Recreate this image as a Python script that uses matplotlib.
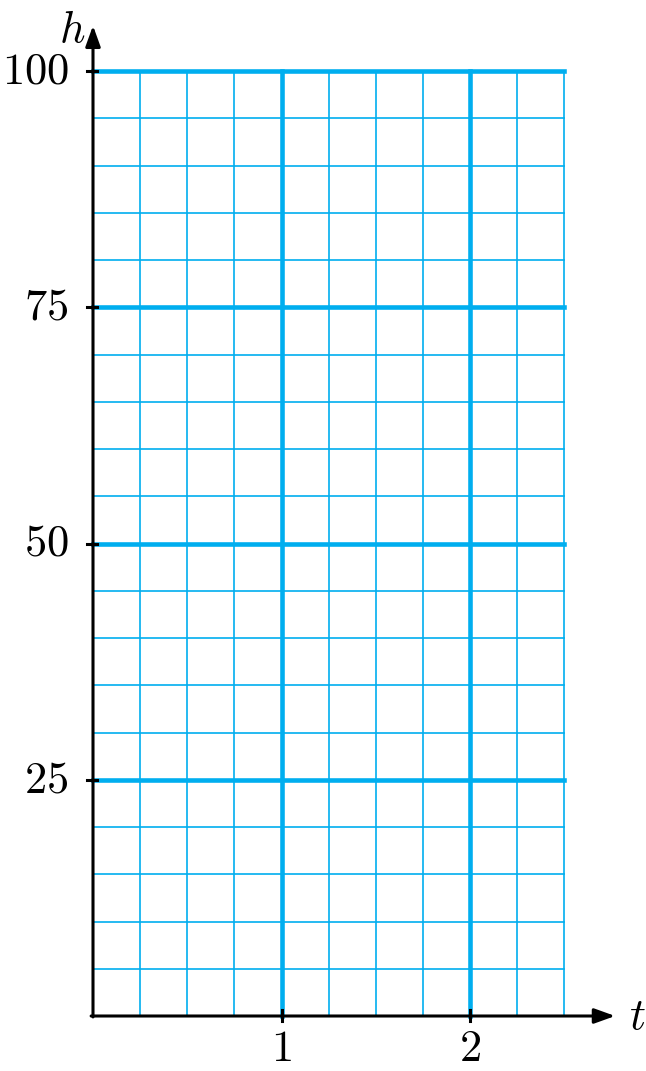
import numpy as np
import matplotlib.pyplot as plt

plt.rcParams['mathtext.fontset'] = 'cm'

# grid values
x_minor = [0.25, 0.5, 0.75, 1.25, 1.5, 1.75, 2.25, 2.5]
x_major = [1, 2]
y_minor = [5, 10, 15, 20, 30, 35, 40, 45, 55, 60, 65, 70, 80, 85, 90, 95]
y_major = [25, 50, 75, 100]
x_ticks = [1, 2]
y_ticks = [25, 50, 75, 100]
x_max = 2.5
y_max = 100

blue = '#00AEEF'

fig = plt.figure(figsize=(6.46, 10.71), dpi=100)
ax = fig.add_axes([0, 0, 1, 1])
ax.set_xlim(-93 / 188.5, (646 - 93) / 188.5)
ax.set_ylim((1016 - 1071) / 9.45, 1016 / 9.45)
ax.axis('off')

for x in x_minor:
    ax.plot([x, x], [0, y_max], color=blue, lw=1.2, zorder=1)
for y in y_minor:
    ax.plot([0, x_max], [y, y], color=blue, lw=1.2, zorder=1)
for x in x_major:
    ax.plot([x, x], [0, y_max], color=blue, lw=3.3, zorder=2)
for y in y_major:
    ax.plot([0, x_max], [y, y], color=blue, lw=3.3, zorder=2)

# axes with arrows
arrow = dict(arrowstyle='-|>,head_length=1.25,head_width=0.45',
             lw=2.2, color='black', shrinkA=0, shrinkB=0)
ax.annotate('', xy=(2.77, 0), xytext=(-0.01, 0), arrowprops=arrow, zorder=5)
ax.annotate('', xy=(0, 104.8), xytext=(0, -0.1), arrowprops=arrow, zorder=5)

# ticks
for x in x_ticks:
    ax.plot([x, x], [-0.5, 0.6], color='black', lw=2.2, zorder=6)
    ax.text(x, -1.2, '$%d$' % x, ha='center', va='top', fontsize=32)
for y in y_ticks:
    ax.plot([-0.03, 0.02], [y, y], color='black', lw=2.2, zorder=6)
    ax.text(-0.13, y, '$%d$' % y, ha='right', va='center', fontsize=32)

ax.text(-0.11, 104.4, '$h$', ha='center', va='center', fontsize=32)
ax.text(2.886, -0.1, '$t$', ha='center', va='center', fontsize=32)

fig.savefig('out.png', dpi=100)
